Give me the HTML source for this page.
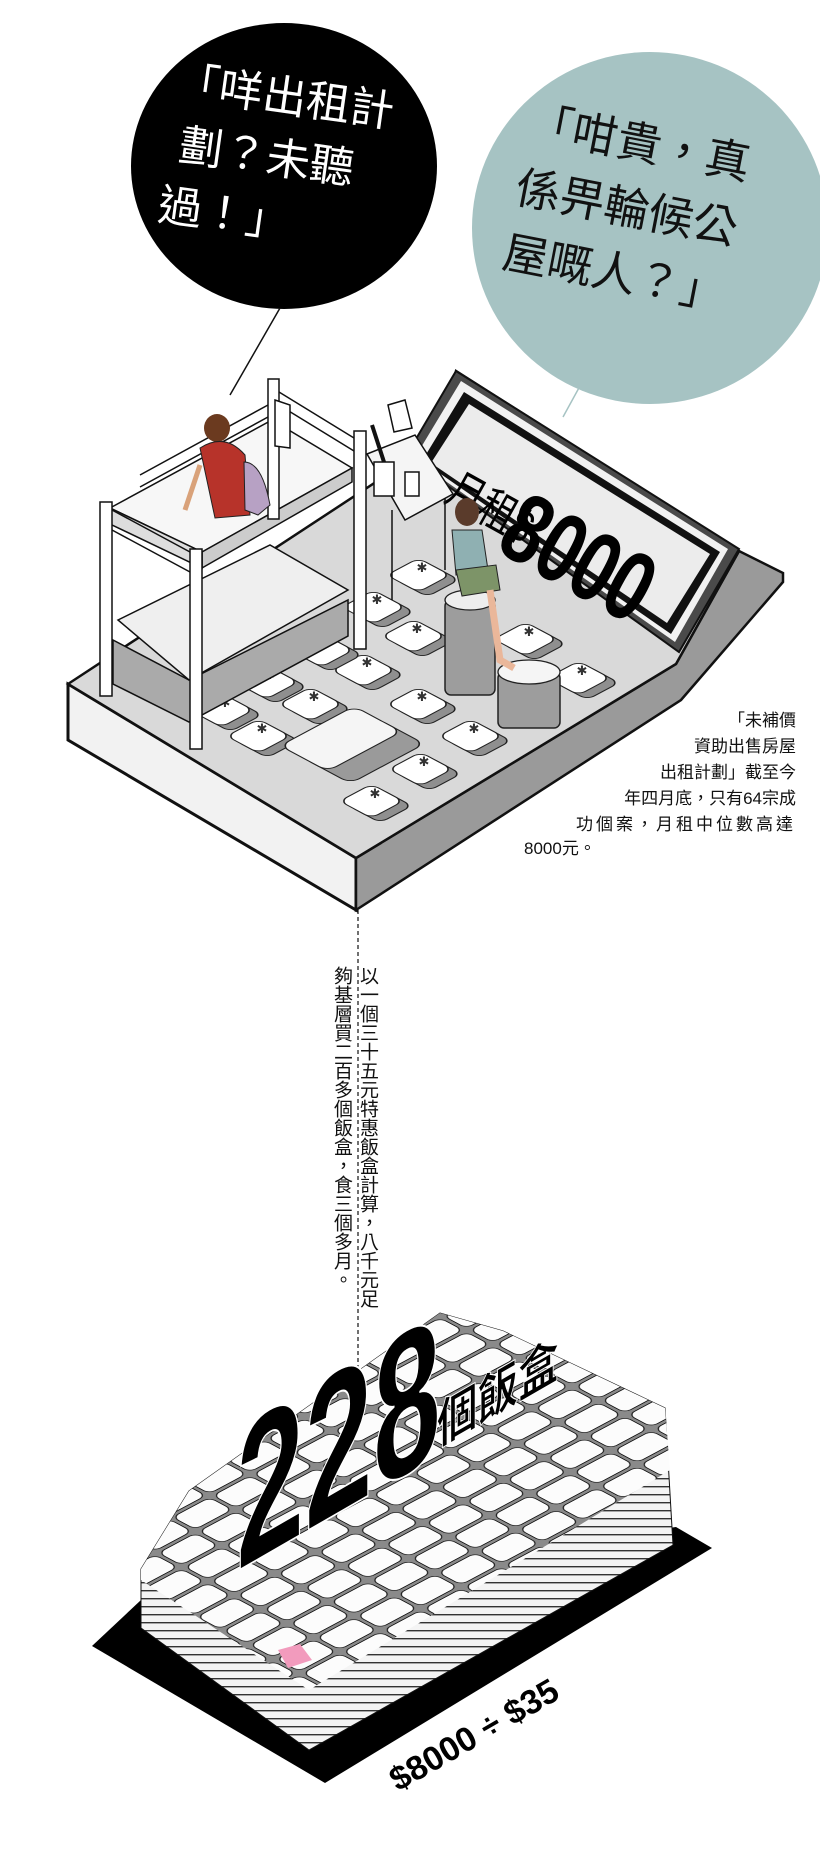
<!DOCTYPE html>
<html><head><meta charset="utf-8"><style>
html,body{margin:0;padding:0;background:#fff;}
body{width:820px;height:1852px;position:relative;overflow:hidden;font-family:"Liberation Sans","Noto Sans CJK TC",sans-serif;}
.t{position:absolute;white-space:nowrap;}
.vt{position:absolute;writing-mode:vertical-rl;font-size:19px;line-height:24px;color:#111;}
</style></head><body>
<svg width="820" height="1852" style="position:absolute;left:0;top:0">
<defs>
<pattern id="boxes" width="46" height="30" patternUnits="userSpaceOnUse" patternTransform="matrix(0.88,-0.47,0.88,0.47,0,0)">
<rect width="46" height="30" fill="#8a8a8a"/>
<rect x="2" y="2" width="42" height="26" rx="7" fill="#fcfcfc" stroke="#111" stroke-width="1"/>
</pattern>
<pattern id="stripes" width="10" height="8" patternUnits="userSpaceOnUse">
<rect width="10" height="8" fill="#f4f4f4"/><rect y="6" width="10" height="1.4" fill="#333"/>
</pattern>
<g id="key"><g transform="matrix(0.88,-0.47,0.88,0.47,0,0)"><rect x="-18" y="-12" width="36" height="36" rx="8" fill="#8f8f8f" stroke="#222" stroke-width="1.3"/><rect x="-18" y="-22" width="36" height="36" rx="8" fill="#fff" stroke="#222" stroke-width="1.3"/></g><text x="0" y="-5" font-size="13" text-anchor="middle" fill="#333">&#x2731;</text></g>
</defs>

<!-- bubbles -->
<ellipse cx="284" cy="166" rx="153" ry="143" fill="#000"/>
<line x1="230" y1="395" x2="280" y2="308" stroke="#111" stroke-width="1.5"/>
<ellipse cx="650" cy="228" rx="178" ry="176" fill="#a6c3c3"/>
<line x1="563" y1="417" x2="586" y2="375" stroke="#a6c3c3" stroke-width="1.5"/>

<!-- calculator body -->
<polygon points="68,684 356,858 356,910 68,740" fill="#f2f2f2" stroke="#111" stroke-width="3"/>
<polygon points="356,858 676,664 739,551 783,573 783,582 681,700 356,910" fill="#9a9a9a" stroke="#111" stroke-width="2.5"/>
<polygon points="68,684 440,440 456,371 739,551 676,664 356,858" fill="#d9d9d9" stroke="#111" stroke-width="2.5"/>
<!-- display -->
<polygon points="456,371 739,549 679,652 406,456" fill="#4a4a4a" stroke="#111" stroke-width="2"/>
<polygon points="461,381 728,549 675,642 414,459" fill="#f2f2f2"/>
<polygon points="464,392 720,552 671,634 422,461" fill="#111"/>
<polygon points="469,404 710,554 667,623 431,463" fill="#ececec"/>
<g transform="translate(443,500) rotate(29)">
<text x="0" y="0" font-size="42" fill="#000" font-family="'Liberation Sans','Noto Sans CJK TC',sans-serif" transform="scale(0.85,1.1)">月租$</text>
<text x="80" y="16" font-size="86" font-weight="bold" fill="#000" font-family="'Liberation Sans',sans-serif" letter-spacing="-2" transform="scale(0.85,1.15)">8000</text>
</g>

<!-- keys -->
<use href="#key" x="422" y="577"/>
<use href="#key" x="377" y="609"/>
<use href="#key" x="417" y="638"/>
<use href="#key" x="367" y="672"/>
<use href="#key" x="314" y="706"/>
<use href="#key" x="422" y="706"/>
<use href="#key" x="474" y="738"/>
<use href="#key" x="424" y="771"/>
<use href="#key" x="375" y="803"/>
<use href="#key" x="582" y="680"/>
<use href="#key" x="529" y="641"/>
<use href="#key" x="270" y="684"/>
<use href="#key" x="225" y="712"/>
<use href="#key" x="325" y="652"/>
<use href="#key" x="262" y="738"/>
<!-- big key -->
<g transform="translate(347,742) matrix(0.88,-0.47,0.88,0.47,0,0)"><rect x="-42" y="-8" width="84" height="54" rx="10" fill="#9a9a9a" stroke="#222" stroke-width="1.3"/><rect x="-42" y="-34" width="84" height="54" rx="10" fill="#f5f5f5" stroke="#222" stroke-width="1.3"/></g>
<!-- pillar block -->
<rect x="445" y="600" width="50" height="95" rx="6" fill="#9d9d9d" stroke="#222" stroke-width="1.5"/>
<ellipse cx="470" cy="600" rx="25" ry="10" fill="#eee" stroke="#222" stroke-width="1.3"/>
<rect x="498" y="672" width="62" height="56" rx="6" fill="#9d9d9d" stroke="#222" stroke-width="1.5"/>
<ellipse cx="529" cy="672" rx="31" ry="12" fill="#f5f5f5" stroke="#222" stroke-width="1.3"/>

<!-- bed -->
<g stroke="#111" stroke-width="1.5">
<polygon points="113,640 189,680 348,600 348,636 189,722 113,684" fill="#aaa"/>
<polygon points="118,620 270,545 348,590 189,680" fill="#efefef"/>
<polygon points="110,508 272,420 352,468 202,552" fill="#f7f7f7"/>
<polygon points="202,552 352,468 352,482 202,568" fill="#ccc"/>
<polygon points="110,508 202,552 202,568 110,524" fill="#ddd"/>
<rect x="100" y="502" width="12" height="194" fill="#fff"/>
<rect x="190" y="549" width="12" height="200" fill="#fff"/>
<rect x="268" y="379" width="11" height="140" fill="#fff"/>
<rect x="354" y="431" width="12" height="218" fill="#fff"/>
<line x1="112" y1="510" x2="190" y2="552"/>
<line x1="112" y1="530" x2="190" y2="572"/>
<line x1="140" y1="475" x2="268" y2="405"/>
<line x1="140" y1="487" x2="268" y2="417"/>
<line x1="279" y1="392" x2="354" y2="438"/>
<line x1="279" y1="405" x2="354" y2="451"/>
<polygon points="275,400 290,405 290,448 275,446" fill="#fff"/>
<!-- desk -->
<polygon points="367,454 415,435 453,494 405,520" fill="#f5f5f5"/>
<line x1="392" y1="510" x2="392" y2="600"/>
<line x1="445" y1="498" x2="445" y2="570"/>
<rect x="374" y="462" width="20" height="34" fill="#fff"/>
<rect x="405" y="472" width="14" height="24" fill="#fff"/>
<line x1="384" y1="462" x2="372" y2="425" stroke-width="4"/>
<polygon points="388,405 405,400 412,428 394,432" fill="#fff"/>
</g>
<!-- man -->
<ellipse cx="217" cy="428" rx="13" ry="14" fill="#6b3a1f"/>
<path d="M200,448 Q225,432 245,455 L250,515 L215,518 Z" fill="#b7332a" stroke="#222"/>
<path d="M244,462 Q262,462 270,505 L258,515 L245,510 Z" fill="#b7a1c4" stroke="#222"/>
<line x1="200" y1="465" x2="185" y2="510" stroke="#d9a27a" stroke-width="5"/>
<!-- woman -->
<ellipse cx="467" cy="512" rx="12" ry="14" fill="#5a3b2b"/>
<path d="M452,530 L482,530 L488,570 L456,575 Z" fill="#8fb0b2" stroke="#222"/>
<path d="M456,570 L496,565 L500,590 L462,596 Z" fill="#7d9468" stroke="#222"/>
<path d="M490,590 L500,660 L514,668" stroke="#eab79a" stroke-width="7" fill="none"/>

<!-- dashed line -->
<line x1="358" y1="910" x2="358" y2="1380" stroke="#111" stroke-width="1.2" stroke-dasharray="4,3"/>

<!-- stack base -->
<polygon points="92,1646 325,1783 712,1548 676,1527 141,1600" fill="#000"/>
<polygon points="141,1569 189,1491 440,1313 503,1331 665,1408 673,1545 309,1750 141,1628" fill="url(#stripes)" stroke="#111"/>
<polygon points="141,1569 189,1491 440,1313 503,1331 665,1408 670,1470 309,1690 141,1580" fill="url(#boxes)"/>
<polygon points="278,1650 300,1644 312,1660 288,1668" fill="#f29bbd"/>
<!-- 228 -->
<g transform="translate(236,1572) skewY(-30) scale(0.6,1)">
<text x="0" y="0" font-size="205" font-weight="bold" fill="#000" font-family="'Liberation Sans',sans-serif" stroke="#fff" stroke-width="2">228</text>
</g>
<g transform="translate(437,1446) skewY(-30) scale(0.78,1)">
<text x="0" y="0" font-size="52" font-weight="bold" fill="#000" font-family="'Liberation Sans','Noto Sans CJK TC',sans-serif" stroke="#fff" stroke-width="1">個飯盒</text>
</g>
<g transform="translate(398,1792) rotate(-30)">
<text x="0" y="0" font-size="34" font-weight="bold" fill="#000" font-family="'Liberation Sans',sans-serif">$8000 ÷ $35</text>
</g>
</svg>

<!-- bubble texts -->
<div class="t" style="left:180px;top:52px;font-size:44px;line-height:62px;color:#fff;transform:rotate(8deg);transform-origin:0 0;">「咩出租計<br>&nbsp;劃？未聽<br>過！」</div>
<div class="t" style="left:535px;top:90px;font-size:45px;line-height:66px;color:#111;transform:rotate(11deg);transform-origin:0 0;">「咁貴，真<br>係畀輪候公<br>屋嘅人？」</div>

<!-- right paragraph -->
<div class="t" style="right:24px;top:708px;font-size:17px;line-height:26px;text-align:right;color:#111;">「未補價<br>資助出售房屋<br>出租計劃」截至今<br>年四月底，只有64宗成<br><span style="letter-spacing:3px">功個案，月租中位數高達</span></div>
<div class="t" style="left:524px;top:838px;font-size:17px;line-height:22px;color:#111;">8000元。</div>

<div class="vt" style="left:355px;top:966px;height:380px;">以一個三十五元特惠飯盒計算，八千元足</div>
<div class="vt" style="left:329px;top:966px;height:380px;">夠基層買二百多個飯盒，食三個多月。</div>
</body></html>
